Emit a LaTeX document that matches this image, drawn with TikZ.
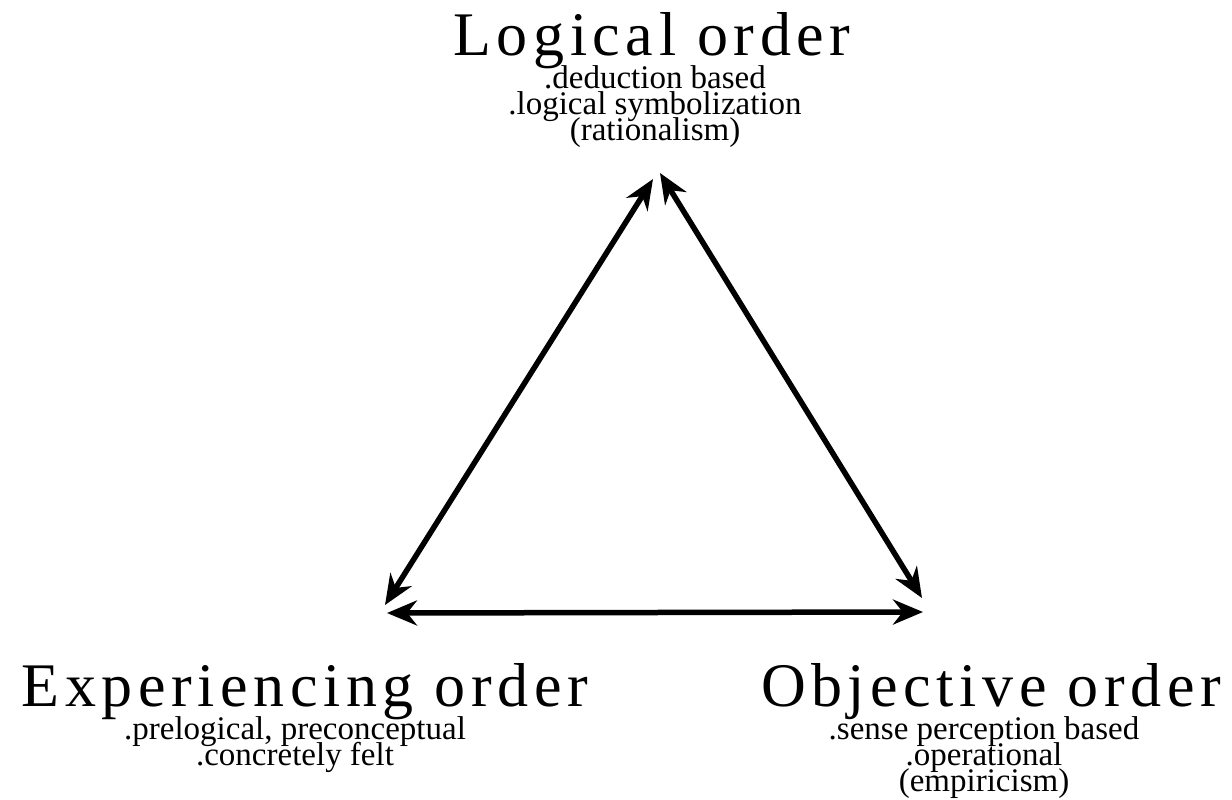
\documentclass[tikz,border=0pt]{standalone}
\usepackage{fontspec}
\setmainfont{Liberation Serif}
\newfontfamily\titlefont[LetterSpace=9]{Liberation Serif}
\newcommand\mysubfont{\fontsize{33}{26}\selectfont\setlength{\lineskiplimit}{-100pt}\setlength{\lineskip}{0pt}\relax}
\usetikzlibrary{arrows.meta}
\begin{document}
\begin{tikzpicture}[x=1pt,y=-1pt,
  title/.style={font=\titlefont\fontsize{62}{62}\selectfont, inner sep=0pt, anchor=base},
  sub/.style={font=\mysubfont, inner sep=0pt, anchor=north, align=center},
  link/.style={line width=5.5pt, {Stealth[length=30pt,width=25pt]}-{Stealth[length=30pt,width=25pt]}}]
\useasboundingbox (0,0) rectangle (1232,800);
% Logical order
\node[title] (logt) at (652,56) {Logical order};
\node[sub] (logs) at (655,65) {.deduction based\\.logical symbolization\\(rationalism)};
% Experiencing order
\node[title] (expt) at (305,706) {Experiencing order};
\node[sub] (exps) at (295,716) {.prelogical, preconceptual\\.concretely felt};
% Objective order
\node[title] (objt) at (991,706) {Objective order};
\node[sub] (objs) at (984,716) {.sense perception based\\.operational\\(empiricism)};
% arrow ends
\coordinate (topL) at (653,179);
\coordinate (topR) at (660,173);
\coordinate (botL) at (385,605);
\coordinate (botR) at (922,598);
\coordinate (baseL) at (387,613);
\coordinate (baseR) at (923,612);
\draw[link] (topL) -- (botL);
\draw[link] (topR) -- (botR);
\draw[link] (baseL) -- (baseR);
\end{tikzpicture}
\end{document}
